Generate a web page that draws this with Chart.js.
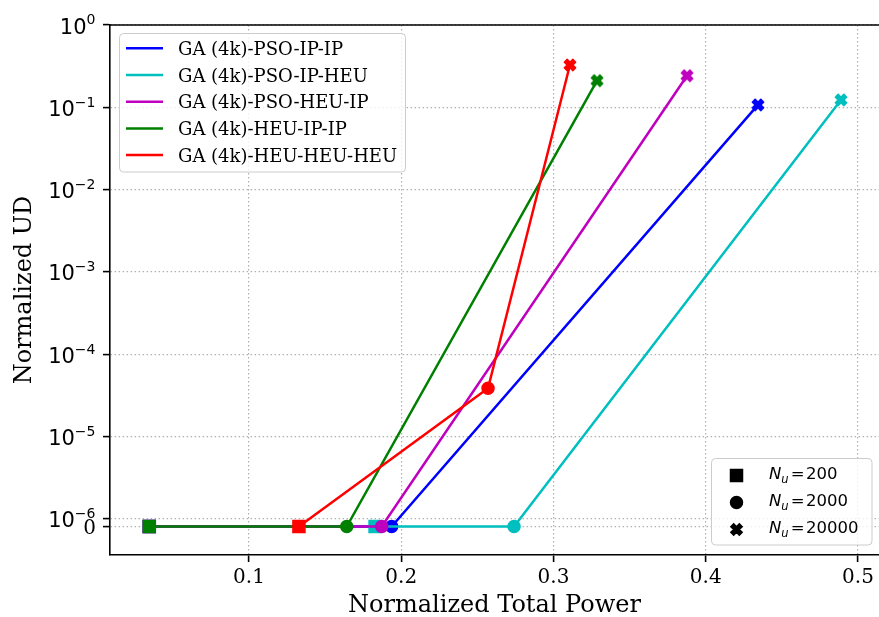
<!DOCTYPE html>
<html>
<head>
<meta charset="utf-8">
<script src="https://cdn.jsdelivr.net/npm/chart.js@4.4.0/dist/chart.umd.min.js"></script>
<style>
  html, body { margin: 0; padding: 0; background: #fff; }
  canvas { display: block; }
</style>
</head>
<body>
<canvas id="grafico" width="879" height="617"></canvas>
<script>
// normalized total power / normalized UD, points for N_u = 200, 2000, 20000
const psoIpIpPower = [0.0345, 0.1937, 0.4343];
const psoIpIpUD = [0, 0, 0.107];
const psoIpHeuPower = [0.1828, 0.2741, 0.4888];
const psoIpHeuUD = [0, 0, 0.123];
const psoHeuIpPower = [0.0345, 0.1872, 0.3877];
const psoHeuIpUD = [0, 0, 0.242];
const heuIpIpPower = [0.0345, 0.1642, 0.3286];
const heuIpIpUD = [0, 0, 0.211];
const heuHeuHeuPower = [0.1328, 0.2570, 0.3108];
const heuHeuHeuUD = [0, 3.87e-5, 0.327];

const seriesLabels = ["GA (4k)-PSO-IP-IP", "GA (4k)-PSO-IP-HEU", "GA (4k)-PSO-HEU-IP", "GA (4k)-HEU-IP-IP", "GA (4k)-HEU-HEU-HEU"];
const seriesColors = ["#0000ff", "#00bfbf", "#bf00bf", "#008000", "#ff0000"];
const nuLabels = ["200", "2000", "20000"];

const xTickValues = [0.1, 0.2, 0.3, 0.4, 0.5];
const yTickExponents = [0, -1, -2, -3, -4, -5, -6];
const yTickValues = [...yTickExponents.map(e => Math.pow(10, e)), 0];

// symmetric log axis, linear between -1e-6 and 1e-6
const LIN_THRESH = 1e-6;
const LIN_SCALE = 0.091;

function symlog(v) {
    const a = Math.abs(v);
    const t = a <= LIN_THRESH ? LIN_SCALE * a / LIN_THRESH : LIN_SCALE + Math.log10(a / LIN_THRESH);
    return v < 0 ? -t : t;
}

function symexp(t) {
    const a = Math.abs(t);
    const v = a <= LIN_SCALE ? a / LIN_SCALE * LIN_THRESH : LIN_THRESH * Math.pow(10, a - LIN_SCALE);
    return t < 0 ? -v : v;
}

class SymlogScale extends Chart.Scale {
    determineDataLimits() {
        this.min = this.options.min;
        this.max = this.options.max;
    }
    buildTicks() {
        return yTickValues.map(v => ({ value: v }));
    }
    configure() {
        super.configure();
        this._lo = symlog(this.min);
        this._hi = symlog(this.max);
    }
    getLabelForValue(v) {
        return String(v);
    }
    getPixelForValue(v) {
        return this.getPixelForDecimal((symlog(v) - this._lo) / (this._hi - this._lo));
    }
    getPixelForTick(i) {
        return this.getPixelForValue(this.ticks[i].value);
    }
    getValueForPixel(p) {
        return symexp(this._lo + this.getDecimalForPixel(p) * (this._hi - this._lo));
    }
}
SymlogScale.id = "symlog";
SymlogScale.defaults = {};
Chart.register(SymlogScale);

// filled "X" marker: a plus sign turned by 45 degrees
function xMarkerPath(ctx, cx, cy, size) {
    const pts = [[-1, -3], [1, -3], [1, -1], [3, -1], [3, 1], [1, 1], [1, 3], [-1, 3], [-1, 1], [-3, 1], [-3, -1], [-1, -1]];
    const k = size / 6 * Math.SQRT1_2;
    ctx.beginPath();
    pts.forEach(([px, py], i) => {
        const x = cx + (px - py) * k;
        const y = cy + (px + py) * k;
        if (i === 0) ctx.moveTo(x, y); else ctx.lineTo(x, y);
    });
    ctx.closePath();
}

function xMarkerImage(color) {
    const c = document.createElement("canvas");
    c.width = 18;
    c.height = 18;
    const ctx = c.getContext("2d");
    xMarkerPath(ctx, 9, 9, 12);
    ctx.fillStyle = color;
    ctx.fill();
    ctx.strokeStyle = color;
    ctx.lineWidth = 1.5;
    ctx.lineJoin = "round";
    ctx.stroke();
    return c;
}

function montarDataset(i, power, ud) {
    const cor = seriesColors[i];
    return {
        label: seriesLabels[i],
        data: power.map((x, j) => ({ x: x, y: ud[j] })),
        borderColor: cor,
        backgroundColor: cor,
        borderWidth: 2.5,
        tension: 0,
        pointStyle: ["rect", "circle", xMarkerImage(cor)],
        pointRadius: [8.5, 6, 8],
        pointBorderWidth: 1.5,
        pointBackgroundColor: cor,
        pointBorderColor: cor,
        order: seriesLabels.length - 1 - i,
    };
}

function roundBox(ctx, x, y, w, h, r) {
    ctx.beginPath();
    ctx.roundRect(x, y, w, h, r);
    ctx.fillStyle = "rgba(255,255,255,0.8)";
    ctx.fill();
    ctx.strokeStyle = "#cccccc";
    ctx.lineWidth = 1;
    ctx.stroke();
}

const extrasPlugin = {
    id: "extras",
    afterDraw(chart) {
        const ctx = chart.ctx;
        const area = chart.chartArea;
        ctx.save();

        // top spine
        ctx.strokeStyle = "#000";
        ctx.lineWidth = 1.6;
        ctx.beginPath();
        ctx.moveTo(area.left - 0.8, area.top);
        ctx.lineTo(area.right, area.top);
        ctx.stroke();

        // y tick labels: 10^k and 0
        const yScale = chart.scales.y;
        const right = 95.5;
        ctx.fillStyle = "#000";
        ctx.textBaseline = "alphabetic";
        ctx.textAlign = "left";
        yTickExponents.forEach(e => {
            const py = yScale.getPixelForValue(Math.pow(10, e));
            const expText = e < 0 ? "\u2212" + (-e) : String(e);
            ctx.font = '14px "DejaVu Sans"';
            const expW = ctx.measureText(expText).width;
            ctx.font = '21px "DejaVu Sans"';
            const baseW = ctx.measureText("10").width;
            ctx.fillText("10", right - expW - baseW, py + 8.5);
            ctx.font = '14px "DejaVu Sans"';
            ctx.fillText(expText, right - expW, py - 0.6);
        });
        ctx.font = '20px "DejaVu Serif"';
        ctx.textAlign = "right";
        ctx.fillText("0", right + 0.5, yScale.getPixelForValue(0) + 7.3);

        // series legend
        roundBox(ctx, 119.5, 33.5, 286, 138.5, 4);
        ctx.textAlign = "left";
        ctx.font = '18px "DejaVu Serif"';
        chart.data.datasets.forEach((ds, i) => {
            const y = 48.3 + i * 26.7;
            ctx.strokeStyle = ds.borderColor;
            ctx.lineWidth = 2.5;
            ctx.beginPath();
            ctx.moveTo(126, y);
            ctx.lineTo(163, y);
            ctx.stroke();
            ctx.fillStyle = "#000";
            ctx.fillText(ds.label, 178, y + 6.7);
        });

        // marker legend
        roundBox(ctx, 711.5, 458.5, 160.5, 86.5, 4);
        ctx.fillStyle = "#000";
        ctx.strokeStyle = "#000";
        ctx.lineWidth = 1.5;
        const mx = 736.5;
        nuLabels.forEach((txt, i) => {
            const cy = 475.5 + i * 27;
            if (i === 0) {
                ctx.fillRect(mx - 6, cy - 6, 12, 12);
                ctx.strokeRect(mx - 6, cy - 6, 12, 12);
            } else if (i === 1) {
                ctx.beginPath();
                ctx.arc(mx, cy, 6, 0, Math.PI * 2);
                ctx.fill();
                ctx.stroke();
            } else {
                xMarkerPath(ctx, mx, cy, 12);
                ctx.fill();
                ctx.stroke();
            }
            const base = cy + 3.8;
            let x = 769;
            ctx.font = 'italic 16.5px "DejaVu Sans"';
            ctx.fillText("N", x, base);
            x += ctx.measureText("N").width;
            ctx.font = 'italic 11.5px "DejaVu Sans"';
            ctx.fillText("u", x, base + 3.5);
            x += ctx.measureText("u").width + 2;
            ctx.font = '16.5px "DejaVu Sans"';
            ctx.fillText("=", x, base);
            x += ctx.measureText("=").width + 1.5;
            ctx.fillText(txt, x, base);
        });

        ctx.restore();
    }
};

const gridDash = [1.5, 2.5];

new Chart(document.getElementById("grafico"), {
    type: "line",
    data: {
        datasets: [
            montarDataset(0, psoIpIpPower, psoIpIpUD),
            montarDataset(1, psoIpHeuPower, psoIpHeuUD),
            montarDataset(2, psoHeuIpPower, psoHeuIpUD),
            montarDataset(3, heuIpIpPower, heuIpIpUD),
            montarDataset(4, heuHeuHeuPower, heuHeuHeuUD),
        ],
    },
    options: {
        responsive: false,
        devicePixelRatio: 1,
        animation: false,
        layout: { autoPadding: false, padding: { top: 25, right: 0, left: 0, bottom: 0 } },
        plugins: {
            legend: { display: false },
            tooltip: { enabled: false },
        },
        scales: {
            x: {
                type: "linear",
                min: 0.0087,
                max: 0.5138,
                afterBuildTicks: (s) => { s.ticks = xTickValues.map(v => ({ value: v })); },
                afterFit: (s) => {
                    s.height = 62;
                    s.paddingLeft = 0;
                    s.paddingRight = 0;
                },
                ticks: {
                    callback: (v) => v.toFixed(1),
                    color: "#000",
                    padding: 4,
                    maxRotation: 0,
                    font: { family: "DejaVu Serif", size: 20 },
                },
                grid: { color: "#b0b0b0", lineWidth: 1.2, tickColor: "#000", tickLength: 7, tickWidth: 1.6 },
                border: { display: true, color: "#000", width: 1.6, dash: gridDash },
                title: {
                    display: true,
                    text: "Normalized Total Power",
                    color: "#000",
                    font: { family: "DejaVu Serif", size: 24, lineHeight: 1 },
                    padding: { top: 0, bottom: -1 },
                },
            },
            y: {
                type: "symlog",
                min: -1.8e-6,
                max: 1,
                afterFit: (s) => {
                    s.width = 110;
                    s.paddingTop = 0;
                    s.paddingBottom = 0;
                },
                ticks: { display: false },
                grid: { color: "#b0b0b0", lineWidth: 1.2, tickColor: "#000", tickLength: 7, tickWidth: 1.6 },
                border: { display: true, color: "#000", width: 1.6, dash: gridDash },
                title: {
                    display: true,
                    text: "Normalized UD",
                    color: "#000",
                    font: { family: "DejaVu Serif", size: 24, lineHeight: 1 },
                    padding: { top: 12.7, bottom: 0 },
                },
            },
        },
    },
    plugins: [extrasPlugin],
});
</script>
</body>
</html>
